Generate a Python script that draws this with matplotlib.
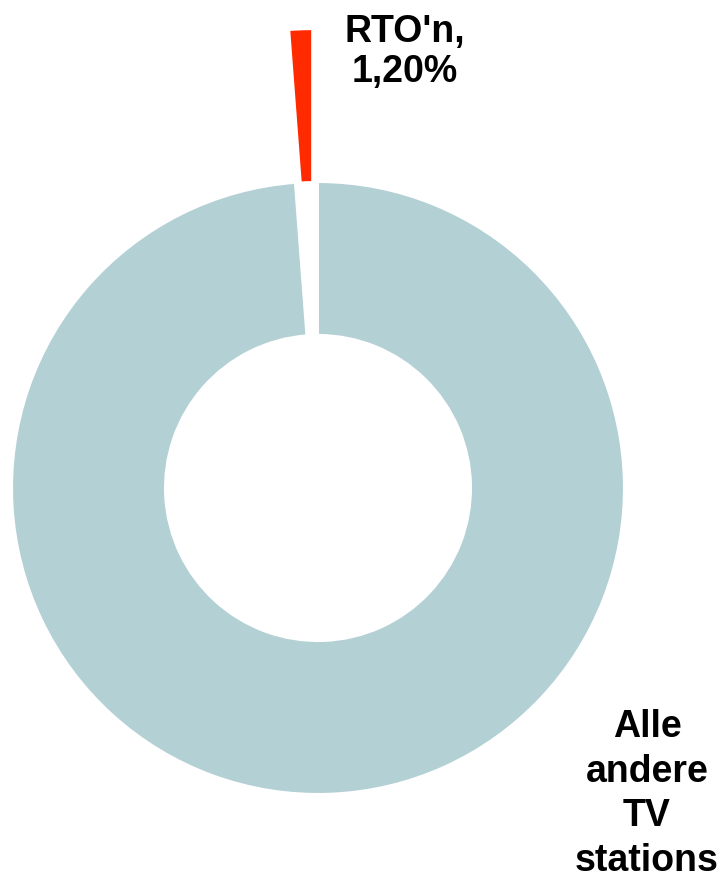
import matplotlib
matplotlib.use("Agg")
import matplotlib.pyplot as plt

plt.rcParams['font.family'] = ['Liberation Sans', 'DejaVu Sans']

# share of viewers
names = ["Alle andere TV stations", "RTO'n"]
shares = [98.8, 1.2]
colors = ["#b3d0d4", "#ff2a00"]
explode = [0, 0.5]

fig = plt.figure(figsize=(7.24, 8.82), dpi=100)
ax = fig.add_axes([0, 0, 1, 1])

ax.pie(shares, colors=colors, explode=explode, startangle=90, counterclock=False,
       radius=1.0, wedgeprops=dict(width=0.5, edgecolor="white", linewidth=1.5))

ax.set_xlim(-1.0392, 1.3268)
ax.set_ylim(-1.2876, 1.5948)
ax.set_aspect("equal")
ax.axis("off")

pct = f"{shares[1]:.2f}".replace(".", ",") + "%"
ax.text(0.284, 1.425, f"{names[1]},\n{pct}", ha="center", va="center",
        fontsize=27, fontweight="bold", linespacing=1.12)
ax.text(1.075, -1.0, names[0].replace(" ", "\n"), ha="center", va="center",
        fontsize=27, fontweight="bold", linespacing=1.32)

fig.savefig("out.png", dpi=100)
